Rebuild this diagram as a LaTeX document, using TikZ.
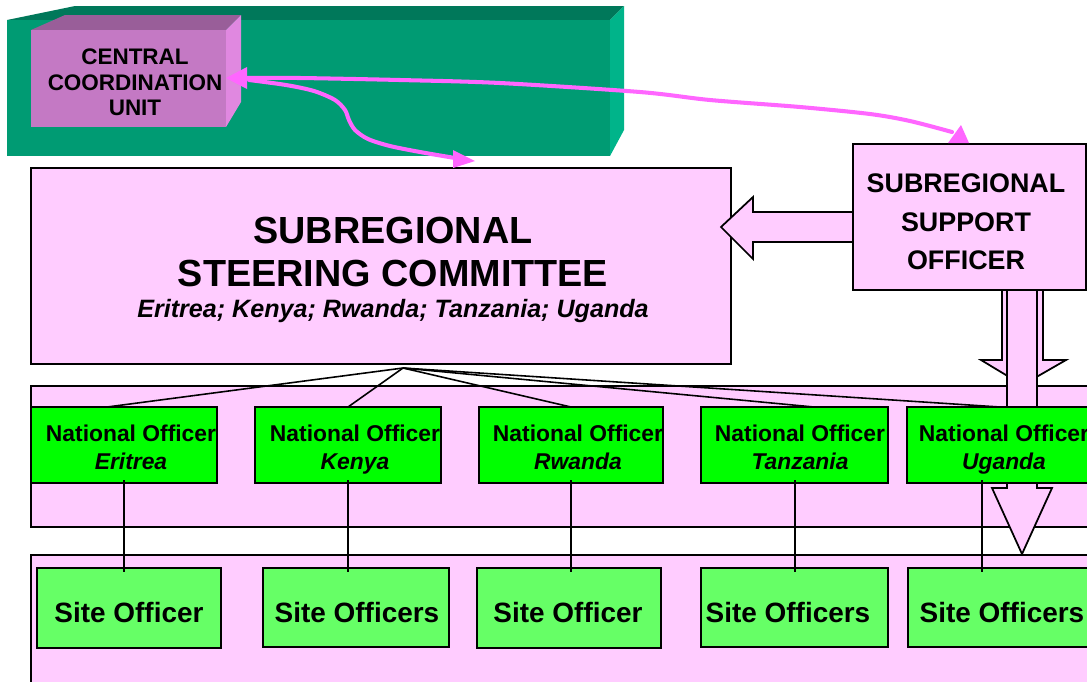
\documentclass[tikz,border=0pt]{standalone}
\usepackage{fontspec}
\setmainfont{Liberation Sans}
\usetikzlibrary{fit}
\definecolor{pinkbg}{RGB}{255,204,255}
\definecolor{nogreen}{RGB}{0,255,0}
\definecolor{sitegreen}{RGB}{102,255,102}
\definecolor{slabfront}{RGB}{0,155,115}
\definecolor{slabtop}{RGB}{0,120,90}
\definecolor{slabside}{RGB}{0,180,138}
\definecolor{ccufront}{RGB}{196,121,196}
\definecolor{ccutop}{RGB}{153,94,153}
\definecolor{ccuside}{RGB}{224,136,224}
\definecolor{magline}{RGB}{255,102,255}
\tikzset{
  box/.style={draw=black, line width=1pt, inner sep=0pt, outer sep=0pt},
  pbox/.style={box, fill=pinkbg},
  nobox/.style={box, fill=nogreen},
  sitebox/.style={box, fill=sitegreen},
  lbl/.style={align=center, inner sep=0pt},
  link/.style={draw=black, line width=0.9pt},
  blockarrow/.style={fill=pinkbg, draw=black, line width=1pt},
  curvy/.style={draw=magline, line width=2.3pt, line cap=round, line join=round},
  curvyhead/.style={fill=magline, draw=none},
  nofont/.style={font={\fontsize{13}{15.9}\selectfont\bfseries}},
  sitefont/.style={font={\fontsize{15.9}{19}\selectfont\bfseries}}
}
\begin{document}
\begin{tikzpicture}[x=0.02cm,y=-0.02cm]
\useasboundingbox (0,0) rectangle (1087,681);
\clip (0,0) rectangle (1087,681);
\fill[white] (0,0) rectangle (1087,681);

% green slab
\fill[slabtop] (7,20) -- (75,6) -- (624,6) -- (610,20) -- cycle;
\fill[slabside] (610,20) -- (624,6) -- (624,130) -- (610,156) -- cycle;
\node[fill=slabfront, inner sep=0pt, outer sep=0pt, fit={(7,20) (610,156)}] (slab) {};

% CCU 3D box
\fill[ccutop] (31,30) -- (65,15) -- (241,15) -- (226,30) -- cycle;
\fill[ccuside] (226,30) -- (241,15) -- (241,102) -- (226,127) -- cycle;
\node[fill=ccufront, inner sep=0pt, outer sep=0pt, fit={(31,30) (226,127)}] (ccu) {};
\node[lbl, font={\fontsize{12.8}{14.5}\selectfont\bfseries}] (ccut) at (135,82.5) {CENTRAL\\COORDINATION\\UNIT};

% steering committee
\node[pbox, fit={(31,168) (731,364)}] (ssc) {};
\node[lbl, font={\fontsize{21.5}{24.4}\selectfont\bfseries}] (ssct) at (393,252) {SUBREGIONAL\\STEERING COMMITTEE};
\node[lbl, font={\fontsize{14.3}{16}\selectfont\bfseries\itshape}] (sscc) at (393,311) {Eritrea; Kenya; Rwanda; Tanzania; Uganda};

% left block arrow and support officer
\filldraw[blockarrow] (853,212) -- (753,212) -- (753,197) -- (721,227) -- (753,259) -- (753,242) -- (853,242) -- cycle;
\node[pbox, fit={(853,144) (1086,290)}] (sso) {};
\node[lbl, font={\fontsize{15.3}{21.8}\selectfont\bfseries}] (ssot) at (966,222) {SUBREGIONAL\\SUPPORT\\OFFICER};

% bands
\node[pbox, fit={(31,386) (1100,527)}] (band1) {};
\node[pbox, fit={(31,555) (1100,700)}] (band2) {};

% down block arrows
\filldraw[blockarrow] (1002,290) -- (1043,290) -- (1043,360) -- (1066,360) -- (1022.5,385) -- (981,360) -- (1002,360) -- cycle;
\filldraw[blockarrow] (1007,290) -- (1037,290) -- (1037,488) -- (1052,488) -- (1022,554) -- (992,488) -- (1007,488) -- cycle;

% national officers
\node[nobox, fit={(31,407) (217,483)}] (no1) {};
\node[nobox, fit={(255,407) (441,483)}] (no2) {};
\node[nobox, fit={(479,407) (663,483)}] (no3) {};
\node[nobox, fit={(701,407) (888,483)}] (no4) {};
\node[nobox, fit={(907,407) (1093,483)}] (no5) {};
\node[lbl, nofont] (no1t) at (131,451) {National Officer\\\textit{Eritrea}\strut};
\node[lbl, nofont] (no2t) at (355,451) {National Officer\\\textit{Kenya}\strut};
\node[lbl, nofont] (no3t) at (578,451) {National Officer\\\textit{Rwanda}\strut};
\node[lbl, nofont] (no4t) at (800,451) {National Officer\\\textit{Tanzania}\strut};
\node[lbl, nofont] (no5t) at (1004,451) {National Officer\\\textit{Uganda}\strut};

% site officers
\node[sitebox, fit={(37,568) (221,648)}] (s1) {};
\node[sitebox, fit={(263,568) (449,647)}] (s2) {};
\node[sitebox, fit={(477,568) (661,648)}] (s3) {};
\node[sitebox, fit={(701,568) (888,647)}] (s4) {};
\node[sitebox, fit={(908,568) (1094,647)}] (s5) {};
\node[lbl, sitefont] (s1t) at (129,612) {Site Officer};
\node[lbl, sitefont] (s2t) at (357,612) {Site Officers};
\node[lbl, sitefont] (s3t) at (568,612) {Site Officer};
\node[lbl, sitefont] (s4t) at (788,612) {Site Officers};
\node[lbl, sitefont] (s5t) at (1002,612) {Site Officers};

% fan lines
\coordinate (apex) at (403,368);
\draw[link] (apex) -- ([xshift=-0.34cm]no1.north);
\draw[link] (apex) -- (no2.north);
\draw[link] (apex) -- (no3.north);
\draw[link] (apex) -- ([xshift=0.39cm]no4.north);
\draw[link] (apex) -- (no5.north);

% vertical lines
\draw[link] ([yshift=0.06cm]no1.south) -- (no1.south |- s1.north) -- ++(0,4);
\draw[link] ([yshift=0.06cm]no2.south) -- (no2.south |- s2.north) -- ++(0,4);
\draw[link] ([yshift=0.06cm]no3.south) -- (no3.south |- s3.north) -- ++(0,4);
\draw[link] ([xshift=0.01cm,yshift=0.06cm]no4.south) -- ([xshift=0.01cm]no4.south |- s4.north) -- ++(0,4);
\draw[link] ([xshift=-0.36cm,yshift=0.06cm]no5.south) -- ([xshift=-0.36cm]no5.south |- s5.north) -- ++(0,4);

% magenta curves
\draw[curvy] plot[smooth, tension=0.5] coordinates {(247,78) (300,78) (400,80) (500,83) (640,92) (710,100) (800,107) (870,114) (910,121) (952,132)};
\draw[curvy] plot[smooth, tension=0.5] coordinates {(249,80) (286,85) (314,91) (335,100) (345,110) (349,120) (355,130) (368,139) (390,146) (420,152) (455,158)};
\fill[curvyhead] (ccu.east |- 0,78) -- (247,67) -- (247,89) -- cycle;
\fill[curvyhead] (475,161) -- (453,150) -- (453,168) -- cycle;
\fill[curvyhead] (961,125) -- (948,143) -- (969,143) -- cycle;
\end{tikzpicture}
\end{document}
